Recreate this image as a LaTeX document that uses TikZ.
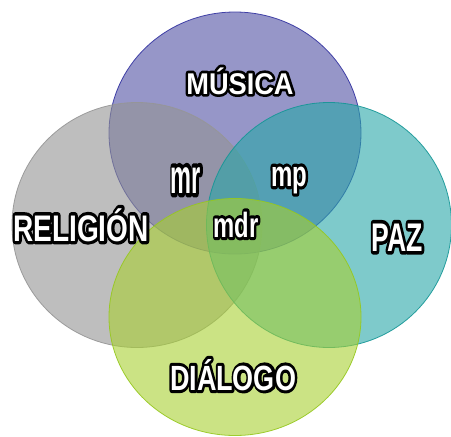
\documentclass[tikz,border=0pt]{standalone}
\usepackage{fontspec}
\setmainfont{Liberation Sans}
\usetikzlibrary{shapes.geometric}
\definecolor{fTop}{RGB}{80,80,163}
\definecolor{dTop}{RGB}{50,50,160}
\definecolor{fLeft}{RGB}{147,147,147}
\definecolor{dLeft}{RGB}{150,150,150}
\definecolor{fRight}{RGB}{40,167,168}
\definecolor{dRight}{RGB}{20,150,150}
\definecolor{fBot}{RGB}{168,208,50}
\definecolor{dBot}{RGB}{150,200,30}
\tikzset{
  venn/.style={ellipse, inner sep=0pt, outer sep=0pt, fill opacity=0.6, draw opacity=0.9, line width=0.8pt},
  lbl/.style={inner sep=0pt, anchor=base, font=\bfseries\fontsize{20}{20}\selectfont}
}
\newcommand\olabel[5]{%
  \node[lbl] (#1) at (#2) {\scalebox{#3}[#4]{\rlap{\special{pdf:literal direct 1 Tr 3.6 w 1 j 0 0 0 RG}#5\special{pdf:literal direct 0 Tr}}\special{pdf:literal direct 1 1 1 rg}#5}};%
}
\begin{document}
\begin{tikzpicture}[x=1pt,y=-1pt]
\useasboundingbox (0,0) rectangle (451,437);
\node[venn, minimum width=252pt, minimum height=242pt, fill=fTop, draw=dTop] (musica) at (235,133) {};
\node[venn, minimum width=250pt, minimum height=245pt, fill=fLeft, draw=dLeft] (religion) at (137,225) {};
\node[venn, minimum width=245pt, minimum height=245pt, fill=fRight, draw=dRight] (paz) at (329,225) {};
\node[venn, minimum width=252pt, minimum height=237pt, fill=fBot, draw=dBot] (dialogo) at (235,317) {};
\olabel{tmus}{240,94}{1.36}{1.5}{MÚSICA}
\olabel{trel}{81,241}{1.40}{1.85}{RELIGIÓN}
\olabel{tpaz}{397,251}{1.33}{2.0}{PAZ}
\olabel{tdia}{233,390}{1.35}{1.75}{DIÁLOGO}
\olabel{tmr}{186,193}{1.18}{2.4}{mr}
\olabel{tmp}{289,186}{1.2}{1.8}{mp}
\olabel{tmdr}{236,237}{1.19}{1.75}{mdr}
\end{tikzpicture}
\end{document}
